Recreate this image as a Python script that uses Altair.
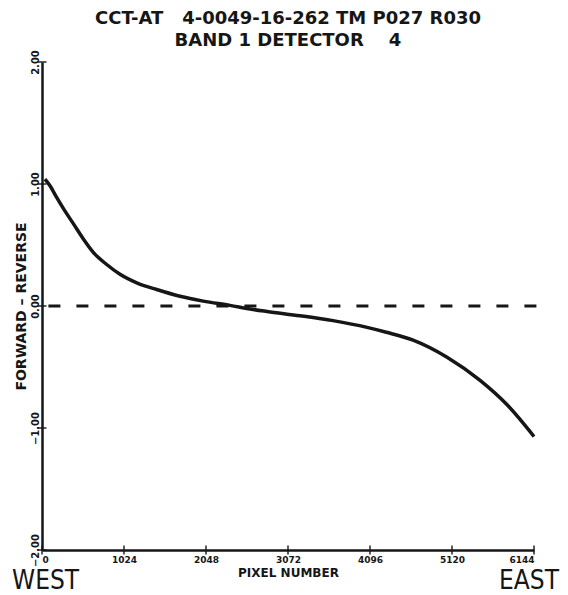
import altair as alt
import pandas as pd

pixel = [37, 100, 183, 266, 391, 516, 640, 808, 974, 1183, 1432, 1723, 2014, 2348, 2600, 2810, 3222, 3634, 4059, 4300, 4634, 5058, 5471, 5808, 6144]
diff = [1.04, 0.985, 0.89, 0.80, 0.675, 0.55, 0.44, 0.34, 0.26, 0.19, 0.135, 0.08, 0.04, 0.005, -0.025, -0.045, -0.08, -0.12, -0.175, -0.215, -0.28, -0.42, -0.61, -0.81, -1.07]

x_ticks = [0, 1024, 2048, 3072, 4096, 5120, 6144]
y_ticks = [-2.0, -1.0, 0.0, 1.0, 2.0]
title_lines = ["CCT-AT\u00a0\u00a0\u00a04-0049-16-262 TM P027 R030", "BAND 1 DETECTOR\u00a0\u00a0\u00a0\u00a04"]

ink = "#161616"
font = "DejaVu Sans"
narrow = "Liberation Sans Narrow, DejaVu Sans Condensed, DejaVu Sans"

curve_df = pd.DataFrame({"pixel": pixel, "diff": diff})
xt_df = pd.DataFrame({"x": x_ticks, "y": [-2.0] * len(x_ticks)})
yt_df = pd.DataFrame({"x": [0] * len(y_ticks), "y": y_ticks})

xs = alt.Scale(domain=[0, 6144], nice=False, zero=False)
ys = alt.Scale(domain=[-2, 2], nice=False, zero=False)

curve = alt.Chart(curve_df).mark_line(interpolate="monotone", color=ink, strokeWidth=3.5).encode(
    x=alt.X("pixel:Q", scale=xs, axis=alt.Axis(
        values=x_ticks, format="d", title="PIXEL NUMBER", ticks=False, grid=False,
        domainColor=ink, domainWidth=2.5, labelFont=font, labelFontSize=9, labelFontWeight="bold",
        labelColor=ink, labelPadding=5, titleFont=font, titleFontSize=12, titleFontWeight="bold",
        titleColor=ink, titlePadding=3)),
    y=alt.Y("diff:Q", scale=ys, axis=alt.Axis(
        values=y_ticks, format=".2f", title="FORWARD \u2013 REVERSE", ticks=False, grid=False,
        domainColor=ink, domainWidth=2.5, labelFont=font, labelFontSize=10, labelFontWeight="bold",
        labelColor=ink, labelAngle=270, labelPadding=2, titleFont=font, titleFontSize=14,
        titleFontWeight="bold", titleColor=ink, titlePadding=2)),
)

zero_line = alt.Chart(pd.DataFrame({"x": [80], "x2": [6200], "y": [0.0]})).mark_rule(
    color=ink, strokeWidth=3, strokeDash=[12, 16]).encode(
    x=alt.X("x:Q", scale=xs), x2="x2:Q", y=alt.Y("y:Q", scale=ys))

xticks = alt.Chart(xt_df).mark_tick(orient="vertical", size=9, thickness=2, color=ink).encode(
    x=alt.X("x:Q", scale=xs), y=alt.Y("y:Q", scale=ys))
yticks = alt.Chart(yt_df).mark_tick(orient="horizontal", size=9, thickness=2, color=ink).encode(
    x=alt.X("x:Q", scale=xs), y=alt.Y("y:Q", scale=ys))

west = alt.Chart(pd.DataFrame({"t": ["WEST"]})).mark_text(
    font=narrow, fontSize=26, color=ink, align="left", baseline="alphabetic").encode(
    text="t:N", x=alt.value(-30), y=alt.value(527))
east = alt.Chart(pd.DataFrame({"t": ["EAST"]})).mark_text(
    font=narrow, fontSize=26, color=ink, align="right", baseline="alphabetic").encode(
    text="t:N", x=alt.value(517), y=alt.value(527))

chart = alt.layer(zero_line, curve, xticks, yticks, west, east).properties(
    width=492, height=488,
    title=alt.TitleParams(text=title_lines, font=font, fontSize=18, fontWeight="bold",
                          color=ink, anchor="middle", lineHeight=22, offset=0),
    autosize=alt.AutoSizeParams(type="none"),
    padding={"left": 34, "top": 54, "right": 26, "bottom": 45},
    background="#ffffff",
).configure_view(stroke=None)

chart.save("out.html", embed_options={"renderer": "svg", "actions": False})
